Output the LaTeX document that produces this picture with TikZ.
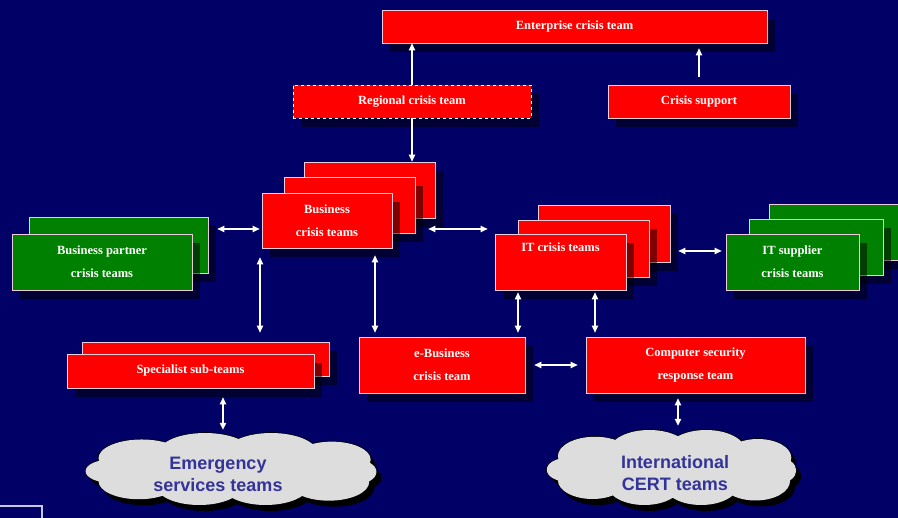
\documentclass[tikz,border=0pt]{standalone}
\usepackage{fontspec}
\setmainfont{Liberation Serif}
\newfontfamily\cloudfont{Liberation Sans}
\usetikzlibrary{arrows.meta,shadows}

\definecolor{navy}{RGB}{0,0,102}
\definecolor{boxred}{RGB}{255,0,0}
\definecolor{boxgreen}{RGB}{0,128,0}
\definecolor{rim}{RGB}{235,205,220}
\definecolor{cloudgrey}{RGB}{221,221,221}
\definecolor{cloudtext}{RGB}{51,51,153}
\definecolor{frameline}{RGB}{200,200,230}

\tikzset{
  team/.style={draw=rim, line width=0.8pt, text=white, inner sep=0pt,
    align=center, font=\bfseries\fontsize{12.5}{23}\selectfont,
    drop shadow={shadow xshift=8pt, shadow yshift=-9pt, fill=black, opacity=0.5}},
  redteam/.style={team, fill=boxred},
  greenteam/.style={team, fill=boxgreen},
  dashteam/.style={redteam, draw=white, dashed},
  cloudarea/.style={inner sep=0pt},
  cloudlabel/.style={text=cloudtext, align=center,
    font=\cloudfont\bfseries\fontsize{18}{22}\selectfont},
  link/.style={draw=white, line width=1.1pt, -{Triangle[length=7pt,width=6.5pt]}},
  dlink/.style={link, {Triangle[length=7pt,width=6.5pt]}-{Triangle[length=7pt,width=6.5pt]}}
}

% the puffs of a cloud, in a unit box from (-1,-1) to (1,1)
\newcommand\puffpath[1]{%
  \path[#1]
    (0,0) ellipse [x radius=.80, y radius=.70]
    (-.62,-.30) ellipse [x radius=.30, y radius=.52]
    (-.18,-.46) ellipse [x radius=.32, y radius=.54]
    (.28,-.44) ellipse [x radius=.32, y radius=.56]
    (.70,-.26) ellipse [x radius=.27, y radius=.50]
    (-.64,.34) ellipse [x radius=.28, y radius=.50]
    (-.22,.46) ellipse [x radius=.30, y radius=.54]
    (.24,.46) ellipse [x radius=.30, y radius=.54]
    (.68,.36) ellipse [x radius=.28, y radius=.52]
    (-.84,.06) ellipse [x radius=.17, y radius=.32]
    (.87,.08) ellipse [x radius=.14, y radius=.34];}
% a shadowed cloud centred at (#1,#2) with half sizes #3 and #4
\newcommand\cloudat[4]{%
  \begin{scope}[shift={(#1+5,#2+6)}, xscale=#3, yscale=#4]
    \puffpath{fill=black}
  \end{scope}
  \begin{scope}[shift={(#1,#2)}, xscale=#3, yscale=#4]
    \puffpath{draw=black, line width=1.6pt}
    \puffpath{fill=cloudgrey}
  \end{scope}}

\begin{document}
\begin{tikzpicture}[x=1pt,y=-1pt]
  \fill[navy] (0,0) rectangle (898,518);
  \useasboundingbox (0,0) rectangle (898,518);
  \begin{scope}
  \clip (0,0) rectangle (898,518);

  % top level
  \node[redteam, minimum width=385pt, minimum height=33pt] (ent) at (574.5,26.5)
    {\raisebox{3pt}{Enterprise crisis team}};
  \node[dashteam, minimum width=238pt, minimum height=33pt] (reg) at (412,101.5)
    {\raisebox{2pt}{Regional crisis team}};
  \node[redteam, minimum width=182pt, minimum height=33pt] (sup) at (699,101.5)
    {Crisis support};

  % business crisis teams (stack of three)
  \node[redteam, minimum width=131pt, minimum height=56pt] (bus3) at (369.5,190) {};
  \node[redteam, minimum width=131pt, minimum height=56pt] (bus2) at (349.5,205) {};
  \node[redteam, minimum width=130pt, minimum height=55pt] (bus1) at (327,220.5)
    {Business\\crisis teams};

  % business partner crisis teams (stack of two)
  \node[greenteam, minimum width=179pt, minimum height=56pt] (bp2) at (118.5,245) {};
  \node[greenteam, minimum width=180pt, minimum height=56pt] (bp1) at (102,262)
    {Business partner\\crisis teams};

  % IT crisis teams (stack of three)
  \node[redteam, minimum width=132pt, minimum height=57pt] (it3) at (604,233.5) {};
  \node[redteam, minimum width=131pt, minimum height=57pt] (it2) at (583.5,248.5) {};
  \node[redteam, minimum width=131pt, minimum height=56pt] (it1) at (560.5,262)
    {IT crisis teams\\\strut};

  % IT supplier crisis teams (stack of three)
  \node[greenteam, minimum width=133pt, minimum height=56pt] (its3) at (835.5,232) {};
  \node[greenteam, minimum width=134pt, minimum height=56pt] (its2) at (816,247) {};
  \node[greenteam, minimum width=133pt, minimum height=56pt] (its1) at (792.5,262)
    {IT supplier\\crisis teams};

  % specialist sub-teams (stack of two)
  \node[redteam, minimum width=247pt, minimum height=34pt] (sp2) at (205.5,359) {};
  \node[redteam, minimum width=247pt, minimum height=34pt] (sp1) at (190.5,371)
    {\raisebox{3pt}{Specialist sub-teams}};

  % e-business and CSIRT
  \node[redteam, minimum width=166pt, minimum height=56pt] (eb) at (442,365)
    {e-Business\\crisis team};
  \node[redteam, minimum width=219pt, minimum height=56pt] (csr) at (695.5,365)
    {Computer security\\response team};

  % outside organisations
  \cloudat{231}{469}{144}{36}
  \node[cloudarea, minimum width=288pt, minimum height=72pt] (emg) at (231,469) {};
  \node[cloudlabel] (emgtext) at (218,474) {Emergency\\services teams};
  \cloudat{671.5}{467.5}{123.5}{37.5}
  \node[cloudarea, minimum width=247pt, minimum height=75pt] (cert) at (671.5,467.5) {};
  \node[cloudlabel] (certtext) at (675,473) {International\\CERT teams};

  % reporting lines
  \draw[link] (reg.north) -- (reg.north |- ent.south);
  \draw[link] (reg.south) -- (reg.south |- bus3.north);
  \draw[link, shorten <=8pt, shorten >=5pt] (sup.north) -- (sup.north |- ent.south);

  % two-way links
  \draw[dlink, shorten <=2pt, shorten >=9pt]
    ([yshift=-8.5pt]bus1.west) -- ([yshift=-8.5pt]bus1.west -| bp2.east);
  \draw[dlink, shorten <=13pt, shorten >=7pt]
    ([yshift=-24pt]bus2.east) -- ([yshift=-24pt]bus2.east -| it1.west);
  \draw[dlink, shorten <=8pt, shorten >=4pt]
    ([yshift=-17.5pt]it3.east) -- ([yshift=-17.5pt]it3.east -| its1.west);
  \draw[dlink, shorten <=9pt, shorten >=9pt]
    ([xshift=-67pt]bus1.south) -- ([xshift=-67pt]bus1.south |- sp2.north);
  \draw[dlink, shorten <=7pt, shorten >=4pt]
    ([xshift=48pt]bus1.south) -- ([xshift=48pt]bus1.south |- eb.north);
  \draw[dlink, shorten <=2pt, shorten >=4pt]
    ([xshift=-42.5pt]it1.south) -- ([xshift=-42.5pt]it1.south |- eb.north);
  \draw[dlink, shorten <=2pt, shorten >=4pt]
    ([xshift=34.5pt]it1.south) -- ([xshift=34.5pt]it1.south |- csr.north);
  \draw[dlink, shorten <=9pt, shorten >=8pt] (eb.east) -- (csr.west);
  \draw[dlink, shorten <=9pt, shorten >=3pt]
    ([xshift=32.5pt]sp1.south) -- ([xshift=32.5pt]sp1.south |- emg.north);
  \draw[dlink, shorten <=5pt, shorten >=4pt]
    ([xshift=-17.5pt]csr.south) -- ([xshift=-17.5pt]csr.south |- cert.north);

  % frame corner at the lower left
  \draw[frameline, line width=1.5pt] (0,506) -- (42,506) -- (42,520);
  \end{scope}
\end{tikzpicture}
\end{document}
